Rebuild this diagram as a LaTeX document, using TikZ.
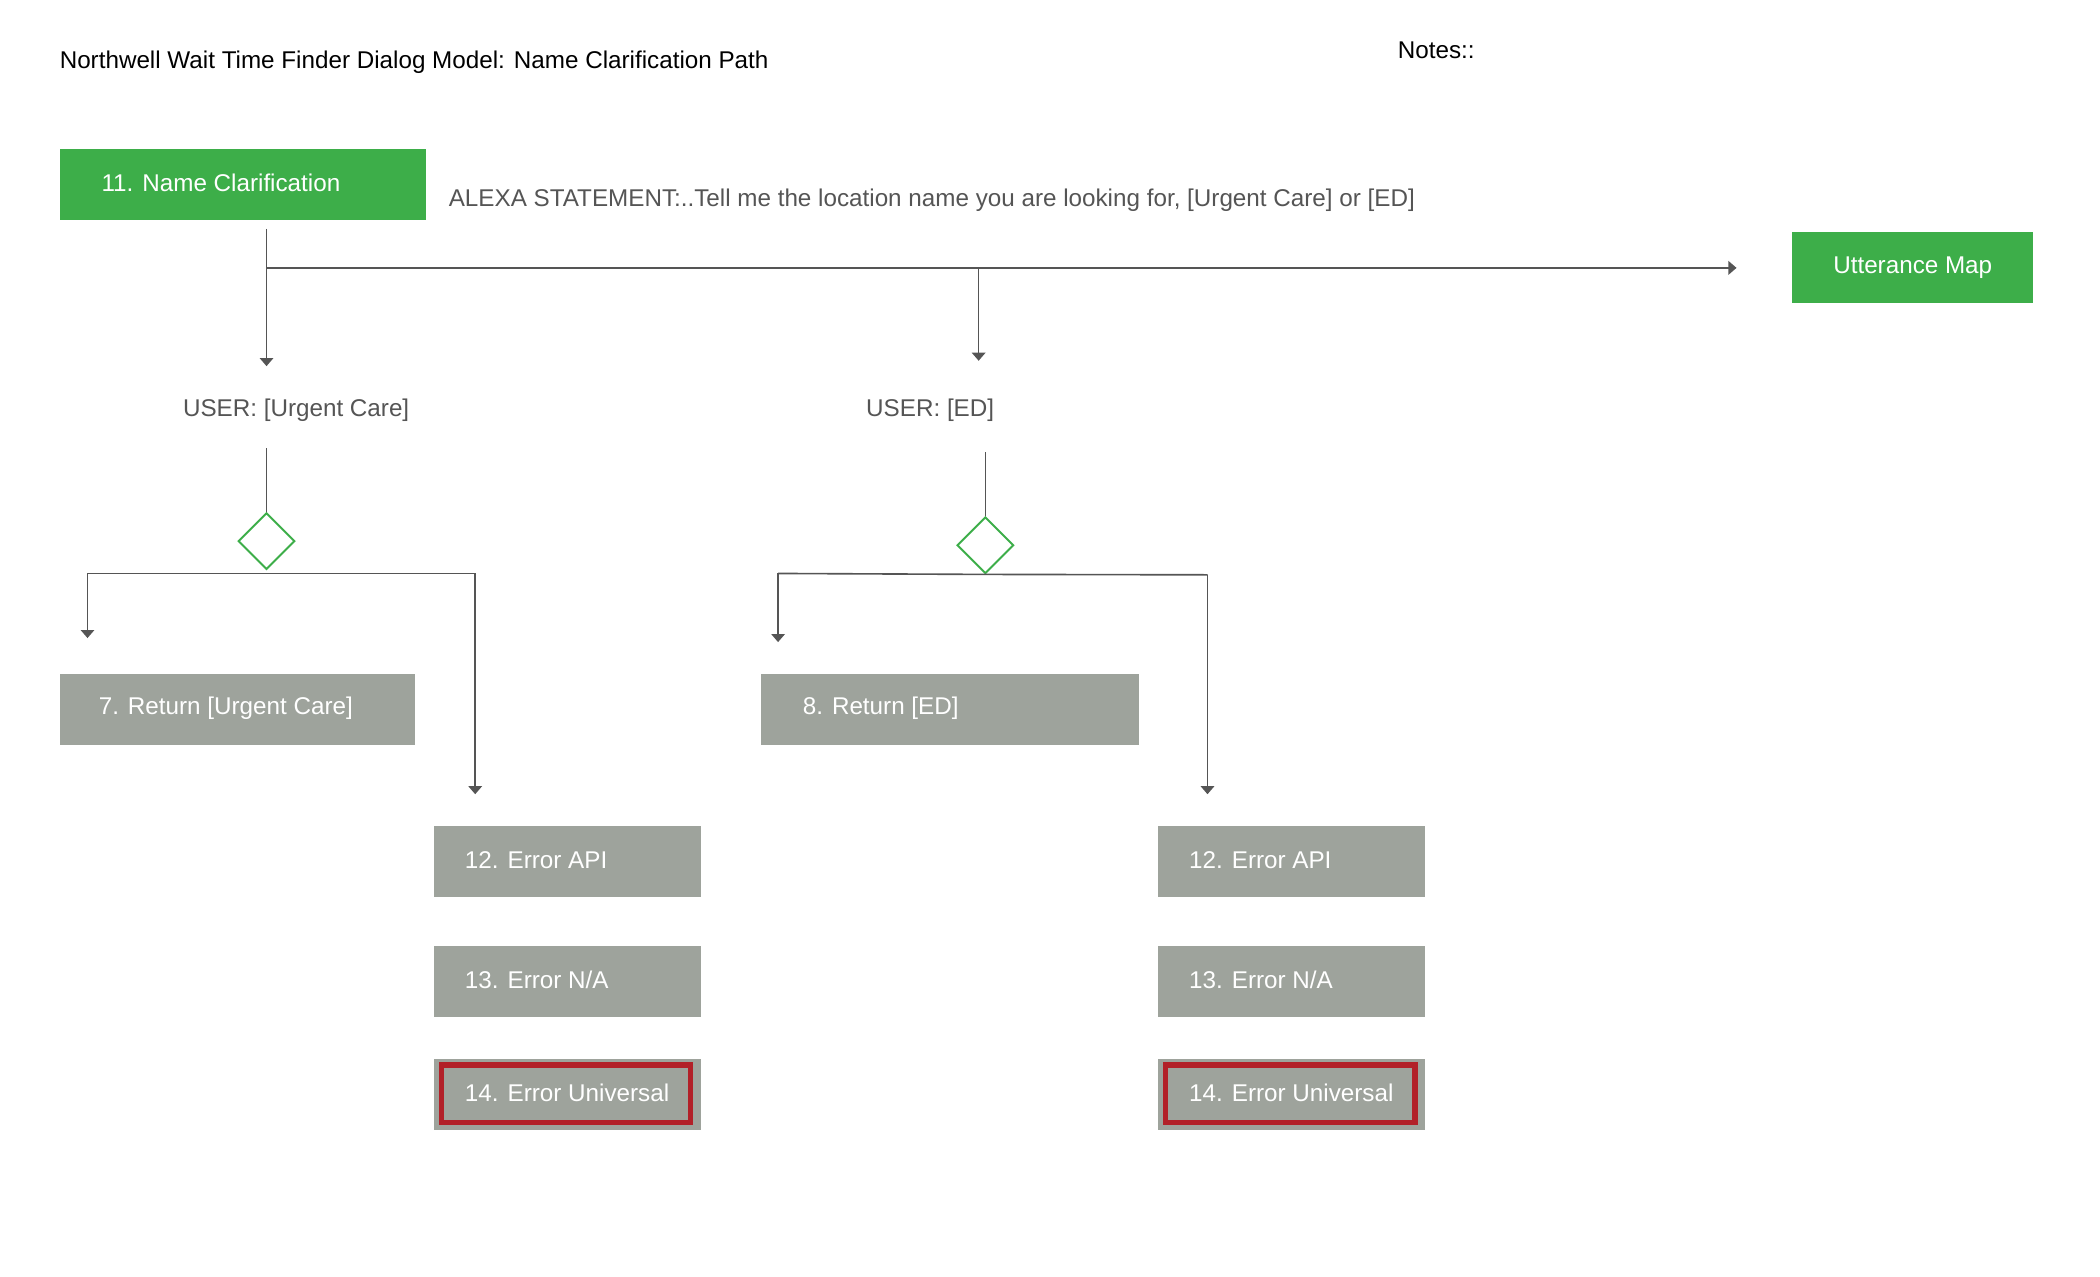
\documentclass[tikz,border=0pt]{standalone}
\usepackage{fontspec}
\setmainfont{Liberation Sans}
\usetikzlibrary{shapes.geometric,arrows.meta}
\definecolor{gr}{HTML}{3DAE49}
\definecolor{gy}{HTML}{9EA39C}
\definecolor{rd}{HTML}{B22028}
\definecolor{ln}{HTML}{555555}
\tikzset{
  box/.style={fill=#1,text=white,minimum height=26.5pt,anchor=north west,inner sep=0pt,font=\fontsize{9}{11}\selectfont},
  lbl/.style={text=ln,font=\fontsize{9}{11}\selectfont,inner sep=0pt},
  conn/.style={draw=ln,line width=0.6pt},
  arr/.style={conn,-{Triangle[width=5pt,length=3pt]}},
  dia/.style={diamond,draw=gr,line width=0.7pt,fill=white,minimum width=21pt,minimum height=21pt,inner sep=0pt}
}
\begin{document}
\begin{tikzpicture}[x=0.5pt,y=-0.5pt]
\useasboundingbox[fill=white] (0,0) rectangle (1560,948);
\node[lbl,text=black,anchor=west] (title) at (44,46) {Northwell Wait Time Finder Dialog Model: Name Clarification Path};
\node[lbl,text=black,anchor=west] (notes) at (1038,37) {Notes::};
\node[box=gr,minimum width=136pt] (n11) at (44,110) {};
\node[text=white,anchor=west,inner sep=0pt,font=\fontsize{9}{11}\selectfont] at (75,136) {11. Name Clarification};
\node[lbl,anchor=west] (alexa) at (333,149) {ALEXA STATEMENT:..Tell me the location name you are looking for, [Urgent Care] or [ED]};
\node[box=gr,minimum width=89.5pt] (um) at (1331,172) {};
\node[text=white,inner sep=0pt,font=\fontsize{9}{11}\selectfont] at (um.center) {Utterance Map};
\coordinate (s0) at (198,170);
\coordinate (j0) at (198,199);
\coordinate (j1) at (727,199);
\coordinate (a1) at (198,272);
\coordinate (a2) at (727,268);
\coordinate (a3) at (1290,199);
\draw[conn] (s0) -- (j0);
\draw[arr] (j0) -- (a1);
\draw[arr] (j0) -- (a3);
\draw[arr] (j1) -- (a2);
\node[lbl] (u1) at (220,305) {USER: [Urgent Care]};
\node[lbl] (u2) at (691,305) {USER: [ED]};
\node[dia] (d1) at (198,402) {};
\node[dia] (d2) at (732,405) {};
\coordinate (t1) at (198,333);
\coordinate (t2) at (732,336);
\draw[conn] (t1) -- (d1.north);
\draw[conn] (t2) -- (d2.north);
% left branch
\coordinate (l1) at (65,426); \coordinate (r1) at (353,426);
\coordinate (l1e) at (65,474); \coordinate (r1e) at (353,590);
\draw[conn] (l1) -- (r1);
\draw[arr] (l1) -- (l1e);
\draw[arr] (r1) -- (r1e);
\coordinate (l2) at (578,426); \coordinate (r2) at (897,427);
\coordinate (l2e) at (578,477); \coordinate (r2e) at (897,590);
\draw[conn] (l2) -- (d2.south) -- (r2);
\draw[arr] (l2) -- (l2e);
\draw[arr] (r2) -- (r2e);
% boxes
\node[box=gy,minimum width=132pt] (b7) at (44,500) {};
\node[text=white,anchor=west,inner sep=0pt,font=\fontsize{9}{11}\selectfont] at (73,526) {7. Return [Urgent Care]};
\node[box=gy,minimum width=140.5pt] (b8) at (565,500) {};
\node[text=white,anchor=west,inner sep=0pt,font=\fontsize{9}{11}\selectfont] at (596,526) {8. Return [ED]};
\foreach \x/\n in {322/a,860/b}{
  \node[box=gy,minimum width=99pt] (e12\n) at (\x,613) {};
  \node[text=white,anchor=west,inner sep=0pt,font=\fontsize{9}{11}\selectfont] at (\x+23,639) {12. Error API};
  \node[box=gy,minimum width=99pt] (e13\n) at (\x,702) {};
  \node[text=white,anchor=west,inner sep=0pt,font=\fontsize{9}{11}\selectfont] at (\x+23,728) {13. Error N/A};
  \node[box=gy,minimum width=99pt] (e14\n) at (\x,786) {};
  \draw[rd,line width=2pt] (\x+6,791) rectangle (\x+191,834);
  \node[text=white,anchor=west,inner sep=0pt,font=\fontsize{9}{11}\selectfont] at (\x+23,812) {14. Error Universal};
}
\end{tikzpicture}
\end{document}
